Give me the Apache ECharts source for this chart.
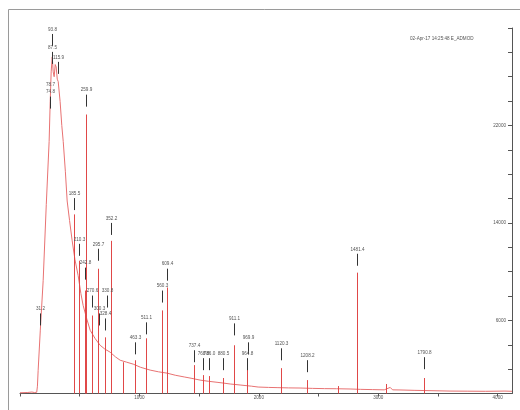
<!DOCTYPE html>
<html><head><meta charset="utf-8">
<script src="https://cdn.jsdelivr.net/npm/echarts@6/dist/echarts.min.js"></script>
<style>html,body{margin:0;padding:0;background:#fff}#c{width:520px;height:410px}</style>
</head><body><div id="c"></div>
<script>
// continuum trace (x, intensity)
const traceX = [0, 60, 100, 110, 120, 140, 146, 152, 170, 194, 220, 244, 253, 261, 270, 278, 286, 295, 303, 312, 320, 336, 350, 362, 380, 395, 415, 437, 460, 487, 510, 529, 560, 588, 630, 671, 710, 755, 800, 839, 890, 948, 1010, 1090, 1160, 1232, 1300, 1380, 1440, 1508, 1580, 1650, 1700, 1760, 1850, 1940, 1994, 2080, 2160, 2250, 2345, 2450, 2550, 2650, 2764, 2850, 2950, 3050, 3100, 3120, 3182, 3300, 3450, 3601, 3750, 3900, 4061, 4120];
const traceY = [60, 80, 120, 250, 80, 100, 600, 1900, 5200, 9260, 15500, 20690, 23960, 26400, 27630, 26400, 26000, 27000, 26800, 25800, 25600, 23960, 22000, 20690, 18200, 15800, 14200, 12530, 11000, 9670, 8200, 7220, 6100, 5180, 4500, 3960, 3650, 3390, 3000, 2730, 2580, 2410, 2150, 1920, 1780, 1670, 1500, 1350, 1240, 1100, 1000, 920, 860, 780, 690, 600, 530, 500, 480, 460, 450, 420, 400, 390, 370, 340, 320, 300, 500, 300, 290, 260, 230, 200, 190, 180, 200, 180];

// stick peaks
const peakX = [450, 496, 542, 550, 604, 655, 713, 759, 864, 964, 1056, 1190, 1232, 1454, 1533, 1584, 1701, 1793, 1901, 2186, 2404, 2663, 2822, 3065, 3383];
const peakY = [14700, 10900, 8450, 22900, 6400, 10240, 4610, 12530, 2570, 2730, 4530, 6820, 8700, 2330, 1510, 1430, 1270, 3960, 2700, 2080, 1100, 610, 9920, 780, 1270];

// peak annotations
const labelText = ['93.8', '87.5', '115.9', '78.7\n74.8', '259.9', '185.5', '210.3', '295.7', '352.2', '242.8', '609.4', '31.2', '270.6', '330.8', '300.3', '328.4', '560.3', '511.1', '463.3', '737.4', '768.8', '786.0', '880.5', '911.1', '969.9', '964.8', '1120.3', '1208.2', '1481.4', '1790.8'];
const labelX = [270, 270, 320, 249, 550, 449, 496, 655, 759, 542, 1232, 165, 604, 730, 659, 713, 1190, 1056, 964, 1454, 1533, 1584, 1701, 1793, 1906, 1901, 2186, 2404, 2822, 3383];
const labelY = [29510, 28040, 27220, 24370, 24530, 16040, 12285, 11880, 14000, 10330, 10245, 6570, 8040, 8040, 6570, 6160, 8450, 5840, 4200, 3550, 2900, 2900, 2900, 5755, 4200, 2900, 3710, 2735, 11470, 2980];

const xTickLabels = [1000, 2000, 3000, 4000];
const yTickLabels = [6000, 14000, 22000];
const stampText = '02-Apr-17 14:25:48 E_ADMOD';

const chart = echarts.init(document.getElementById('c'), null, {renderer: 'canvas'});
const txtColor = '#555';
const fs = 4.6;
chart.setOption({
  animation: false,
  backgroundColor: '#fff',
  graphic: [
    {type: 'rect', shape: {x: 8.5, y: 9.5, width: 700, height: 700}, style: {fill: 'none', stroke: '#9a9a9a', lineWidth: 1}, silent: true},
    {type: 'text', left: 410, top: 36, style: {text: stampText, fontSize: fs, fill: txtColor, fontFamily: 'Liberation Sans'}}
  ],
  grid: {left: 20, right: 8, top: 28, bottom: 16.5, outerBoundsMode: 'none'},
  xAxis: {
    type: 'value', min: 0, max: 4120, interval: 500,
    axisLine: {onZero: false, lineStyle: {color: '#555', width: 1}},
    axisTick: {show: true, length: 3, lineStyle: {color: '#555'}},
    axisLabel: {formatter: v => xTickLabels.includes(v) ? String(v) : '', fontSize: fs, color: txtColor, margin: 2, fontFamily: 'Liberation Sans', showMaxLabel: false},
    splitLine: {show: false}
  },
  yAxis: {
    type: 'value', position: 'right', min: 0, max: 30000, interval: 2000,
    axisLine: {show: true, onZero: false, lineStyle: {color: '#555', width: 1}},
    axisTick: {show: true, inside: true, length: 4, lineStyle: {color: '#555'}},
    axisLabel: {inside: true, formatter: v => yTickLabels.includes(v) ? String(v) : '', fontSize: fs, color: txtColor, margin: 6, fontFamily: 'Liberation Sans'},
    splitLine: {show: false}
  },
  series: [
    {
      type: 'line', showSymbol: false, symbol: 'none',
      data: traceX.map((x, i) => [x, traceY[i]]),
      lineStyle: {color: '#e87272', width: 1},
      z: 2
    },
    {
      type: 'custom',
      data: peakX.map((x, i) => [x, peakY[i]]),
      renderItem: (params, api) => {
        const a = api.coord([api.value(0), 0]);
        const b = api.coord([api.value(0), api.value(1)]);
        return {type: 'line', shape: {x1: Math.round(a[0]) + 0.5, y1: a[1], x2: Math.round(b[0]) + 0.5, y2: b[1]}, style: {stroke: '#e04848', lineWidth: 1}};
      },
      z: 3
    },
    {
      type: 'custom',
      data: labelX.map((x, i) => [x, labelY[i]]),
      clip: false,
      renderItem: (params, api) => {
        const p = api.coord([api.value(0), api.value(1)]);
        const x = Math.round(p[0]) + 0.5;
        return {type: 'group', children: [
          {type: 'line', shape: {x1: x, y1: p[1], x2: x, y2: p[1] + 12}, style: {stroke: '#333', lineWidth: 1}},
          {type: 'text', x: x, y: p[1] - 1, style: {text: labelText[params.dataIndex], fontSize: fs, fill: txtColor, align: 'center', verticalAlign: 'bottom', fontFamily: 'Liberation Sans', lineHeight: 7}}
        ]};
      },
      z: 4
    }
  ]
});
</script>
</body></html>
